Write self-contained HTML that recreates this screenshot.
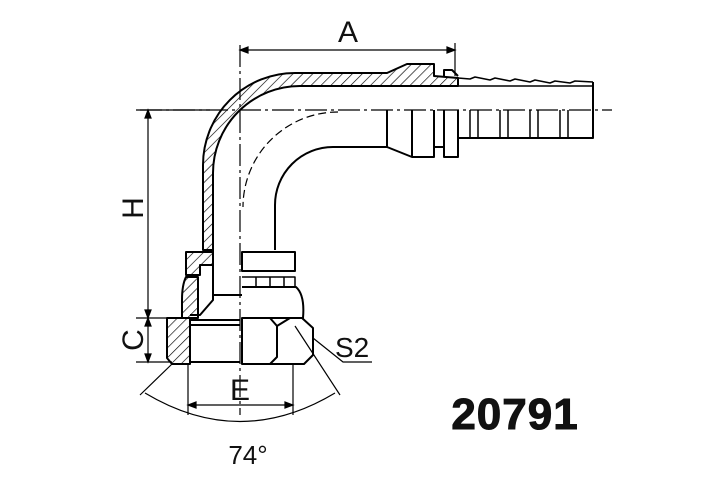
<!DOCTYPE html>
<html><head><style>html,body{margin:0;padding:0;background:#fff}svg{display:block}</style></head><body>
<svg width="705" height="489" viewBox="0 0 705 489" xmlns="http://www.w3.org/2000/svg">
<defs>
<pattern id="h" width="7" height="7" patternUnits="userSpaceOnUse" patternTransform="rotate(45)"><line x1="0" y1="0" x2="0" y2="7" stroke="#000" stroke-width="1.3"/></pattern>
</defs>
<g fill="none" stroke="#000" stroke-width="2" stroke-linejoin="round">
<!-- pipe wall hatched -->
<path d="M203 250 L203 165 A92 92 0 0 1 295 73 L387 73 L407 64 L434 64 L434 76 L458 78 L458 86 L300 86 A87 87 0 0 0 213 173 L213 250 Z" fill="url(#h)"/>
<path d="M444 76 L444 70 L452 70 L458 76"/>
<!-- barb top serration -->
<path d="M458 78 L470 79 L475 77 L490 80 L495 78 L510 81 L515 79 L530 82 L535 80 L550 83 L555 81 L570 83 L575 81 L593 82" stroke-width="1.5"/>
<path d="M458 86 L593 86" stroke-width="1.5"/>
<path d="M593 82 L593 138 L458 138" />
<!-- inner bend -->
<path d="M275 250 L275 205 A58 58 0 0 1 333 147 L387 147 L412 157 L434 157 L434 147 L444 147 L444 157 L458 157 L458 138"/>
<path d="M387 110 L387 147 M412 110 L412 157 M434 110 L434 147 M444 110 L444 157 M458 110 L458 138"/>
<path d="M470 110 L470 137 M478 110 L478 137 M500 110 L500 137 M508 110 L508 137 M530 110 L530 137 M538 110 L538 137 M560 110 L560 137 M568 110 L568 137" stroke-width="1.5"/>
<!-- flange left -->
<path d="M186 252 L213 252 L213 265 L200 265 L200 275 L186 275 L186 252 Z" fill="url(#h)"/>
<path d="M213 250 L213 300 L200 315 L190 315" />
<path d="M213 295 L242 295"/>
<path d="M186 277 L198 277 L198 318 L182 318 L182 300 Q182 285 186 277 Z" fill="url(#h)"/>
<path d="M167 318 L190 318 L190 364 L172 364 L167 358 Z" fill="url(#h)"/>
<path d="M190 320 L240 320 M190 325 L240 325 M190 362 L240 362"/>
<!-- washer -->
<rect x="242" y="252" width="53" height="19"/>
<path d="M242 277 L295 277 L295 287 L242 287 M256 277 V287 M270 277 V287 M284 277 V287" stroke-width="1.5"/>
<path d="M242 287 L296 287 Q305 295 303 318 L242 318"/>
<!-- nut -->
<path d="M242 318 L302 318 L313 328 L313 355 L304 364 L242 364 Z"/>
<path d="M242 318 L270 318 L277 326 L277 357 L270 364 M277 326 L290 318"/>
</g>
<!-- centerlines -->
<g stroke="#000" stroke-width="1.2" fill="none" stroke-dasharray="22 4 3 4">
<path d="M140 110 H612"/>
<path d="M240 45 V415"/>
<path d="M338 112 A95 95 0 0 0 243 207" stroke-dasharray="8 4"/>
</g>
<!-- dimension lines -->
<g stroke="#000" stroke-width="1.2" fill="none">
<path d="M455 43 V76"/>
<path d="M246 50 H449"/>
<path d="M240 50 l8 -3 v6 z M455 50 l-8 -3 v6 z" fill="#000"/>
<path d="M136 110 H210 M136 318 H186 M136 362 H172"/>
<path d="M148 116 V312 M148 324 V356"/>
<path d="M148 110 l-3 8 h6 z M148 318 l-3 -8 h6 z M148 318 l-3 8 h6 z M148 362 l-3 -8 h6 z" fill="#000"/>
<path d="M188 364 V415 M293 364 V415 M194 405 H287"/>
<path d="M188 405 l8 -3 v6 z M293 405 l-8 -3 v6 z" fill="#000"/>
<path d="M172 364 L140 395 M295 326 L340 395"/>
<path d="M145 393 Q240 450 335 393"/>
<path d="M313 338 L343 362 H372"/>
</g>
<g font-family="Liberation Sans, sans-serif" fill="#111">
<text x="348" y="42" font-size="30" text-anchor="middle">A</text>
<text x="133" y="208" font-size="30" text-anchor="middle" transform="rotate(-90 133 208)" dy="10">H</text>
<text x="133" y="340" font-size="30" text-anchor="middle" transform="rotate(-90 133 340)" dy="10">C</text>
<text x="240" y="400" font-size="30" text-anchor="middle">E</text>
<text x="335" y="357" font-size="28">S2</text>
<text x="248" y="464" font-size="26" text-anchor="middle">74°</text>
<text x="515" y="429" font-size="44" font-weight="bold" text-anchor="middle" stroke="#111" stroke-width="1" letter-spacing="1">20791</text>
</g>
</svg>
</body></html>
